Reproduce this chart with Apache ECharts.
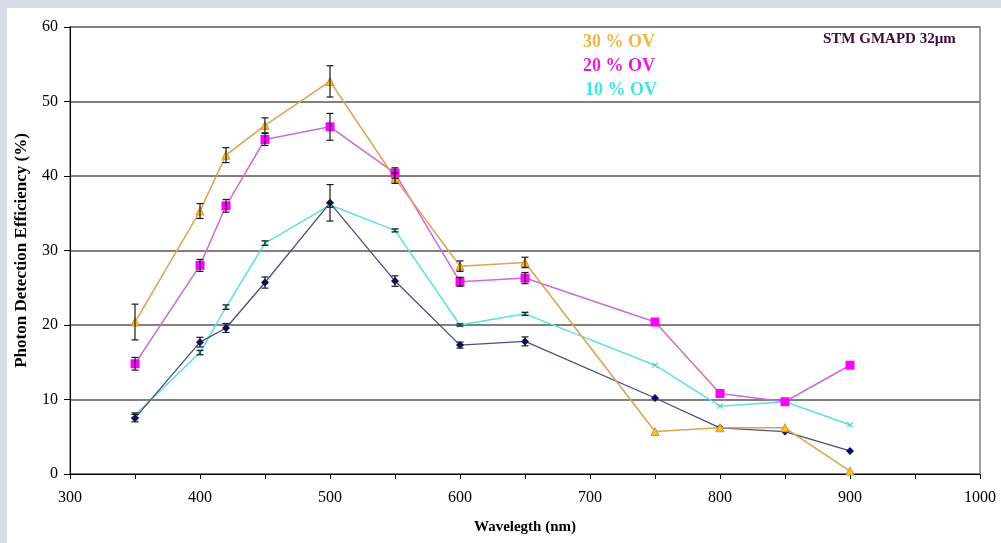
<!DOCTYPE html>
<html>
<head>
<meta charset="utf-8">
<script src="https://cdn.jsdelivr.net/npm/echarts@6/dist/echarts.min.js"></script>
<style>
  html, body { margin: 0; padding: 0; background: #d9dce9; width: 1001px; height: 543px; overflow: hidden; }
  #chart { position: absolute; left: 7px; top: 8px; width: 994px; height: 535px; background: #ffffff; }
</style>
</head>
<body>
<div id="chart"></div>
<script>
// ---- Data ----
const wavelengths = [350, 400, 420, 450, 500, 550, 600, 650, 750, 800, 850, 900];
const ov30    = [20.4, 35.3, 42.8, 46.8, 52.7, 39.7, 27.9, 28.4, 5.7, 6.2, 6.2, 0.4];
const ov30Err = [2.4, 1.0, 1.0, 1.0, 2.1, 0.7, 0.7, 0.7, 0, 0, 0, 0];
const ov20    = [14.8, 28.0, 36.0, 44.9, 46.6, 40.4, 25.8, 26.3, 20.4, 10.8, 9.7, 14.6];
const ov20Err = [0.85, 0.8, 0.85, 0.8, 1.8, 0.7, 0.6, 0.75, 0, 0, 0, 0];
const ov10    = [7.9, 16.3, 22.4, 31.0, 36.1, 32.7, 20.0, 21.5, 14.6, 9.1, 9.7, 6.6];
const ov10Err = [0.3, 0.3, 0.3, 0.3, 0.3, 0.2, 0.15, 0.2, 0, 0, 0, 0];
const ov5     = [7.5, 17.7, 19.6, 25.7, 36.4, 25.9, 17.3, 17.8, 10.2, 6.2, 5.7, 3.1];
const ov5Err  = [0.5, 0.65, 0.6, 0.75, 2.45, 0.7, 0.4, 0.6, 0, 0, 0, 0];
const xTicks  = [300, 400, 500, 600, 700, 800, 900, 1000];
const legendLabels = ['30 % OV', '20 % OV', '10 % OV'];
const noteText = 'STM GMAPD 32\u00b5m';

const serif = '"Liberation Serif", "DejaVu Serif", serif';

function pairs(vals) { return wavelengths.map((w, i) => [w, vals[i]]); }
function errs(vals, e) {
  const out = [];
  wavelengths.forEach((w, i) => { if (e[i] > 0) out.push([w, vals[i] - e[i], vals[i] + e[i]]); });
  return out;
}
const errData = [].concat(errs(ov30, ov30Err), errs(ov20, ov20Err), errs(ov10, ov10Err), errs(ov5, ov5Err));

const chart = echarts.init(document.getElementById('chart'), null, { renderer: 'canvas' });

const option = {
  backgroundColor: '#ffffff',
  animation: false,
  grid: {
    left: 63, right: 21, top: 19, bottom: 69, containLabel: false, outerBoundsMode: 'none',
    show: true, borderColor: '#808080', borderWidth: 1.5, backgroundColor: 'transparent'
  },
  xAxis: {
    type: 'value', min: 300, max: 1000, interval: 50,
    name: 'Wavelegth (nm)', nameLocation: 'middle', nameGap: 46,
    nameTextStyle: { fontFamily: serif, fontWeight: 'bold', fontSize: 15, color: '#000' },
    axisLine: { show: true, onZero: false, lineStyle: { color: '#000', width: 1 } },
    axisTick: { show: true, inside: false, length: 5, lineStyle: { color: '#000' } },
    axisLabel: {
      fontFamily: serif, fontSize: 16, color: '#000', margin: 16,
      formatter: v => (xTicks.indexOf(v) >= 0 ? String(v) : '')
    },
    splitLine: { show: false }
  },
  yAxis: {
    type: 'value', min: 0, max: 60, interval: 10,
    name: 'Photon Detection Efficiency (%)', nameLocation: 'middle', nameGap: 40,
    nameTextStyle: { fontFamily: serif, fontWeight: 'bold', fontSize: 17, color: '#000' },
    axisLine: { show: true, lineStyle: { color: '#000', width: 1 } },
    axisTick: { show: true, inside: false, length: 6, lineStyle: { color: '#000' } },
    axisLabel: { fontFamily: serif, fontSize: 16, color: '#000', margin: 12 },
    splitLine: { show: true, lineStyle: { color: '#808080', width: 2 } }
  },
  series: [
    {
      name: '10 % OV', type: 'line', data: pairs(ov10), z: 3,
      lineStyle: { color: '#5ee0e0', width: 1.5 },
      symbol: 'path://M0,0L2,0L5,3L8,0L10,0L6,4L10,8L8,8L5,5L2,8L0,8L4,4Z', symbolSize: [7, 5],
      itemStyle: { color: '#30c8c8' }
    },
    {
      name: '5 % OV', type: 'line', data: pairs(ov5), z: 3,
      lineStyle: { color: '#4c4c82', width: 1.3 },
      symbol: 'diamond', symbolSize: 8,
      itemStyle: { color: '#0a0a6a' }
    },
    {
      name: '20 % OV', type: 'line', data: pairs(ov20), z: 4,
      lineStyle: { color: '#cf6ad8', width: 1.5 },
      symbol: 'rect', symbolSize: 9,
      itemStyle: { color: '#ff00ff' }
    },
    {
      name: '30 % OV', type: 'line', data: pairs(ov30), z: 4,
      lineStyle: { color: '#e0a050', width: 1.5 },
      symbol: 'triangle', symbolSize: 8,
      itemStyle: { color: '#f5c518', borderColor: '#d89030', borderWidth: 1 }
    },
    {
      name: 'errors', type: 'custom', data: errData, z: 5,
      renderItem: function (params, api) {
        const x = api.value(0);
        const top = api.coord([x, api.value(2)]);
        const bot = api.coord([x, api.value(1)]);
        const hw = 3.5;
        const st = { stroke: '#1a1a1a', lineWidth: 1.2 };
        return {
          type: 'group',
          children: [
            { type: 'line', shape: { x1: top[0], y1: top[1], x2: bot[0], y2: bot[1] }, style: st },
            { type: 'line', shape: { x1: top[0] - hw, y1: top[1], x2: top[0] + hw, y2: top[1] }, style: st },
            { type: 'line', shape: { x1: bot[0] - hw, y1: bot[1], x2: bot[0] + hw, y2: bot[1] }, style: st }
          ]
        };
      }
    }
  ],
  graphic: [
    { type: 'text', left: 576, top: 25, style: { text: legendLabels[0], font: 'bold 18px ' + serif, fill: '#eab54a' } },
    { type: 'text', left: 576, top: 49, style: { text: legendLabels[1], font: 'bold 18px ' + serif, fill: '#e020d8' } },
    { type: 'text', left: 578, top: 73, style: { text: legendLabels[2], font: 'bold 18px ' + serif, fill: '#40e4e4' } },
    { type: 'text', left: 816, top: 24, style: { text: noteText, font: 'bold 15px ' + serif, fill: '#3a0c3c' } }
  ]
};
chart.setOption(option);
</script>
</body>
</html>
